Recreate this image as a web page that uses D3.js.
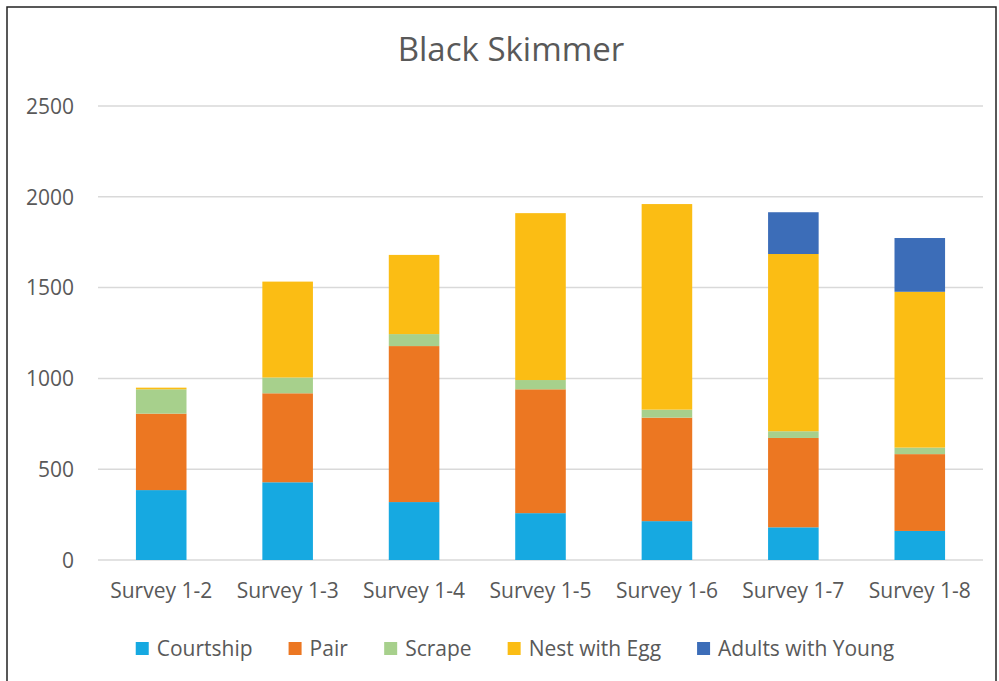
<!DOCTYPE html>
<html>
<head>
<meta charset="utf-8">
<script src="https://cdn.jsdelivr.net/npm/d3@7"></script>
<style>
  html, body { margin: 0; padding: 0; background: #fff; }
  svg text { font-family: "Open Sans", "Noto Sans", sans-serif; fill: #595959; }
</style>
</head>
<body>
<svg width="999" height="681"></svg>
<script>
const surveys = ["Survey 1-2", "Survey 1-3", "Survey 1-4", "Survey 1-5", "Survey 1-6", "Survey 1-7", "Survey 1-8"];
const seriesNames = ["Courtship", "Pair", "Scrape", "Nest with Egg", "Adults with Young"];
const seriesColors = ["#16a9e1", "#ec7722", "#a7d08c", "#fbbd14", "#3c6db8"];

const courtship = [385, 428, 319, 258, 214, 180, 160];
const pair = [421, 490, 859, 682, 570, 492, 423];
const scrape = [134, 87, 66, 51, 44, 37, 36];
const nestWithEgg = [9, 528, 436, 919, 1132, 976, 858];
const adultsWithYoung = [0, 0, 0, 0, 0, 230, 296];

const yTicks = [0, 500, 1000, 1500, 2000, 2500];

const svg = d3.select("svg");

// chart frame
svg.append("rect")
  .attr("x", 7).attr("y", 7)
  .attr("width", 989).attr("height", 690)
  .attr("fill", "none")
  .attr("stroke", "#222")
  .attr("stroke-width", 1.5);

const plot = { left: 98, right: 983, top: 106, bottom: 560 };

const x = d3.scaleBand()
  .domain(surveys)
  .range([plot.left, plot.right])
  .paddingInner(0.6)
  .paddingOuter(0.3);

const y = d3.scaleLinear()
  .domain([0, 2500])
  .range([plot.bottom, plot.top]);

// build rows for the stack
const rows = surveys.map((s, i) => ({
  survey: s,
  "Courtship": courtship[i],
  "Pair": pair[i],
  "Scrape": scrape[i],
  "Nest with Egg": nestWithEgg[i],
  "Adults with Young": adultsWithYoung[i]
}));
const stacked = d3.stack().keys(seriesNames)(rows);
const color = d3.scaleOrdinal(seriesNames, seriesColors);

// gridlines
svg.append("g")
  .selectAll("line")
  .data(yTicks)
  .join("line")
  .attr("x1", plot.left).attr("x2", plot.right)
  .attr("y1", d => y(d)).attr("y2", d => y(d))
  .attr("stroke", "#d9d9d9")
  .attr("stroke-width", 1.5);

// y axis labels
const yAxis = svg.append("g")
  .attr("transform", `translate(${plot.left - 24},0)`)
  .call(d3.axisLeft(y).tickValues(yTicks).tickFormat(d3.format("d")).tickSize(0).tickPadding(0));
yAxis.select(".domain").remove();
yAxis.selectAll("text")
  .attr("font-size", 21)
  .attr("dy", "0.35em")
  .style("fill", "#595959")
  .style("font-family", "'Open Sans', sans-serif");

// bars
svg.append("g")
  .selectAll("g")
  .data(stacked)
  .join("g")
  .attr("fill", d => color(d.key))
  .selectAll("rect")
  .data(d => d)
  .join("rect")
  .attr("x", d => x(d.data.survey))
  .attr("width", x.bandwidth())
  .attr("y", d => y(d[1]))
  .attr("height", d => y(d[0]) - y(d[1]));

// x axis labels
const xAxis = svg.append("g")
  .attr("transform", `translate(0,${plot.bottom + 22})`)
  .call(d3.axisBottom(x).tickSize(0).tickPadding(0));
xAxis.select(".domain").remove();
xAxis.selectAll("text")
  .attr("font-size", 21)
  .attr("dy", "0.75em")
  .style("fill", "#595959")
  .style("font-family", "'Open Sans', sans-serif");

// title
svg.append("text")
  .attr("x", 511).attr("y", 61)
  .attr("text-anchor", "middle")
  .attr("font-size", 33)
  .text("Black Skimmer");

// legend
const legend = svg.append("g").attr("transform", "translate(0,649)");
const items = legend.selectAll("g")
  .data(seriesNames)
  .join("g");
items.append("rect")
  .attr("width", 13).attr("height", 13)
  .attr("y", -7)
  .attr("fill", d => color(d));
items.append("text")
  .attr("x", 21)
  .attr("dy", "0.35em")
  .attr("font-size", 21)
  .text(d => d);

let widths = [];
items.each(function () { widths.push(this.getBBox().width); });
const gap = 36;
const total = d3.sum(widths) + gap * (widths.length - 1);
let cx = 515 - total / 2;
items.attr("transform", (d, i) => {
  const t = `translate(${cx},0)`;
  cx += widths[i] + gap;
  return t;
});
</script>
</body>
</html>
